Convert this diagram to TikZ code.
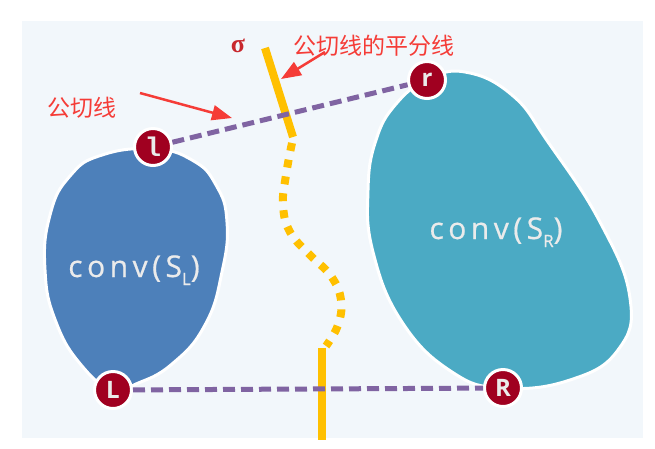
\documentclass[tikz,border=0pt]{standalone}
\usepackage{fontspec}
\setsansfont{Open Sans}
\newfontfamily\cjk{Noto Sans CJK SC}
\newfontfamily\convfont[LetterSpace=15,FakeBold=0.6]{Open Sans}
\newfontfamily\ptmono{Liberation Mono}
\newfontfamily\sigfont{Liberation Serif}
\usetikzlibrary{arrows.meta,positioning}
\definecolor{panelbg}{RGB}{242,247,251}
\definecolor{ptred}{RGB}{160,0,32}
\definecolor{tanpurple}{RGB}{128,100,162}
\definecolor{bisyellow}{RGB}{255,192,0}
\definecolor{notered}{RGB}{245,60,55}
\definecolor{sigred}{RGB}{200,40,45}
\definecolor{leftblue}{RGB}{77,128,186}
\definecolor{rightblue}{RGB}{75,170,196}
\definecolor{convwhite}{RGB}{235,235,235}

\begin{document}
\begin{tikzpicture}[x=1pt,y=-1pt,
    pnt/.style={circle,draw=white,line width=3pt,fill=ptred,inner sep=0pt,
                minimum size=37pt,text=convwhite,
                font=\sffamily\bfseries\fontsize{24}{24}\selectfont},
    tanline/.style={draw=tanpurple,line width=5pt,dash pattern=on 12pt off 6pt},
    bisect/.style={draw=bisyellow,line width=8pt},
    blob/.style={draw=white,line width=3pt},
    note/.style={text=notered,font=\cjk\fontsize{23}{23}\selectfont},
    arr/.style={notered,line width=2.5pt,-{Triangle[length=20pt,width=15pt]}},
    conv/.style={text=convwhite,anchor=base,font=\convfont\fontsize{30}{30}\selectfont}
  ]
    \useasboundingbox (0,0) rectangle (655,448);
    \fill[white] (0,0) rectangle (655,448);
    \fill[panelbg] (22,21) rectangle (643,438);

    % convex hulls
    \draw[blob,fill=leftblue] plot[smooth cycle,tension=0.8] coordinates
      {(153,149) (192,160) (216,185) (227,222) (222,272) (205,325) (172,364)
       (136,384) (113,390) (82,366) (56,322) (45,270) (50,215) (70,176) (102,155)};
    \draw[blob,fill=rightblue] plot[smooth cycle,tension=0.75] coordinates
      {(427,80) (465,72) (512,95) (548,142) (600,222) (630,298) (618,350)
       (570,380) (503,388) (452,372) (402,322) (373,252) (368,190)
       (376,140) (396,104)};

    \node[conv] (cl) at (134,277) {conv(S\raisebox{-8pt}{\fontsize{17}{17}\selectfont L})};
    \node[conv] (cr) at (496,239) {conv(S\raisebox{-8pt}{\fontsize{17}{17}\selectfont R})};

    % bisector
    \draw[bisect] (265,48) -- (293,137);
    \draw[bisect,dash pattern=on 8pt off 9pt] plot[smooth,tension=0.7] coordinates
      {(292,143) (286,175) (283,205) (290,232) (310,255) (331,276) (341,300)
       (338,325) (326,346)};
    \draw[bisect] (322,348) -- (322,440);
    \node[text=sigred,font=\sigfont\bfseries\fontsize{26}{26}\selectfont] (sig) at (238,46) {σ};

    % tangent points
    \node[pnt,font=\ptmono\bfseries\fontsize{27}{27}\selectfont] (l) at (153,147) {l};
    \node[pnt] (r) at (427,80) {r};
    \node[pnt] (L) at (113,390) {L};
    \node[pnt] (R) at (503,388) {R};

    \draw[tanline] (l) -- (r);
    \draw[tanline] (L) -- (R);

    % labels
    \node[note,anchor=west] (ntan) at (44,108) {公切线};
    \node[note,anchor=west] (nbis) at (290,46) {公切线的平分线};
    \coordinate (t1) at (140,93);
    \coordinate (h1) at (232,118);
    \coordinate (t2) at (325,52);
    \coordinate (h2) at (281,79);
    \draw[arr] (t1) -- (h1);
    \draw[arr] (t2) -- (h2);
\end{tikzpicture}
\end{document}
